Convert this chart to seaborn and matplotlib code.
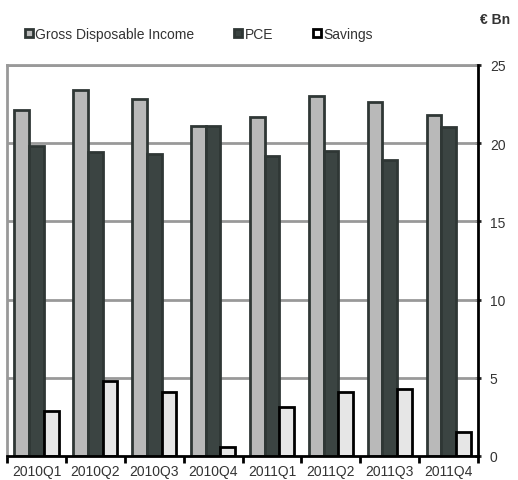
import matplotlib
matplotlib.use("Agg")
import matplotlib.pyplot as plt
from matplotlib.lines import Line2D
import numpy as np
import pandas as pd
import seaborn as sns

quarters = ["2010Q1", "2010Q2", "2010Q3", "2010Q4",
            "2011Q1", "2011Q2", "2011Q3", "2011Q4"]
series_names = ["Gross Disposable Income", "PCE", "Savings"]
gdi = [22.1, 23.4, 22.8, 21.1, 21.7, 23.0, 22.6, 21.8]
pce = [19.8, 19.4, 19.3, 21.1, 19.2, 19.5, 18.9, 21.0]
savings = [2.9, 4.8, 4.1, 0.6, 3.1, 4.1, 4.3, 1.5]
y_ticks = [0, 5, 10, 15, 20, 25]

fill_colors = ["#b9b9b9", "#3b4442", "#e6e6e6"]
edge_colors = ["#2f3735", "#2f3735", "#000000"]

df = pd.DataFrame({
    "quarter": quarters * 3,
    "series": [s for s in series_names for _ in quarters],
    "value": gdi + pce + savings,
})

sns.set_style("white")
plt.rcParams["font.family"] = ["Liberation Sans", "DejaVu Sans"]

fig = plt.figure(figsize=(5.18, 4.81), dpi=100)
ax = fig.add_axes([0.0135, 0.05, 0.9095, 0.813])

sns.barplot(data=df, x="quarter", y="value", hue="series",
            palette=fill_colors, width=0.75, ax=ax, legend=False,
            saturation=1)

for cont, fc, ec in zip(ax.containers, fill_colors, edge_colors):
    for bar in cont:
        bar.set_facecolor(fc)
        bar.set_edgecolor(ec)
        bar.set_linewidth(2)
        bar.set_zorder(3)

ax.set_ylim(0, 25)
ax.set_xlim(-0.5, len(quarters) - 0.5)
ax.set_yticks(y_ticks)
ax.yaxis.tick_right()
ax.set_xlabel("")
ax.set_ylabel("")

# grid
for y in y_ticks[1:]:
    ax.axhline(y, color="#999999", lw=2, zorder=1)

for side in ["left", "top"]:
    ax.spines[side].set_color("#999999")
    ax.spines[side].set_linewidth(2)
for side in ["right", "bottom"]:
    ax.spines[side].set_color("black")
    ax.spines[side].set_linewidth(2)
    ax.spines[side].set_zorder(5)

ax.tick_params(axis="y", right=True, direction="inout", length=5, width=2,
               labelsize=10, labelcolor="#333333", pad=6)
ax.tick_params(axis="x", bottom=False, labelsize=10, labelcolor="#333333", pad=2)
ax.set_xticks(np.arange(-0.5, len(quarters), 1), minor=True)
ax.tick_params(axis="x", which="minor", bottom=True, direction="out",
               length=5, width=2, color="black")

handles = [Line2D([0], [0], marker="s", linestyle="none", markersize=6,
                  markerfacecolor=fc, markeredgecolor=ec, markeredgewidth=2)
           for fc, ec in zip(fill_colors, edge_colors)]
handles[2].set_markerfacecolor("white")
fig.legend(handles, series_names, loc="center left", bbox_to_anchor=(0.02, 0.928),
           ncol=3, frameon=False, fontsize=10, handletextpad=0.0,
           columnspacing=2.7, handlelength=0.9, labelcolor="#333333")

fig.text(0.985, 0.958, "€ Bn", ha="right", va="center", fontsize=10,
         fontweight="bold", color="#333333")

fig.savefig("out.png", dpi=100)
